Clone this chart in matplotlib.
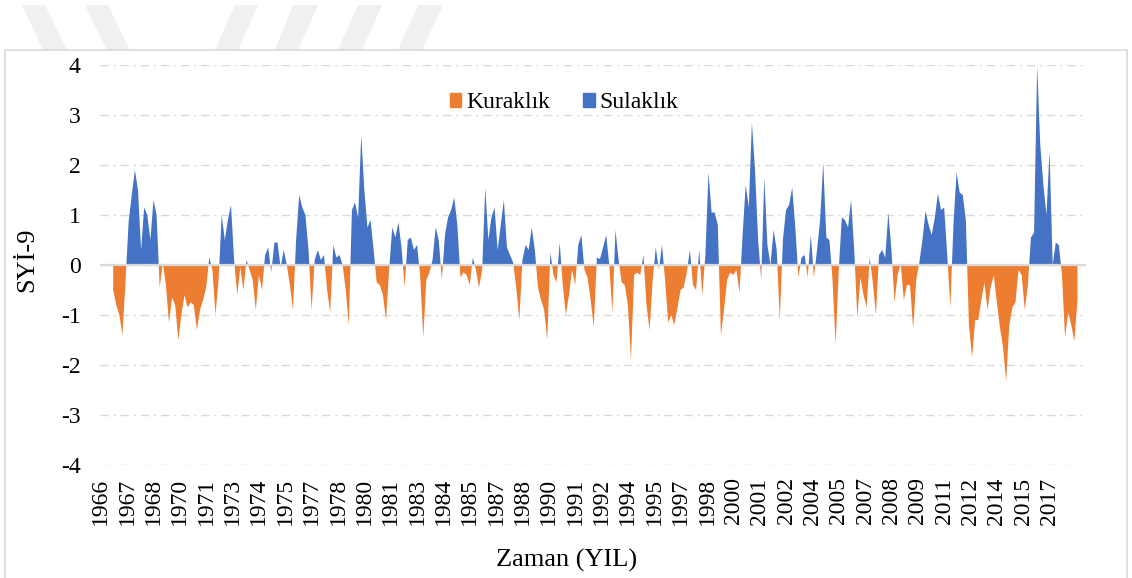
import numpy as np
import matplotlib.pyplot as plt
from matplotlib.patches import Patch, Rectangle, Polygon
from matplotlib.transforms import ScaledTranslation

plt.rcParams['font.family'] = ['Liberation Serif', 'DejaVu Serif']
plt.rcParams['axes.unicode_minus'] = False

# monthly axis: Jan 1966 .. Dec 2018, values read every 2nd month from Sep 1966
n_months = 636
first_month = 8
month_step = 2

syi9 = [
    -0.5, -0.8, -1.0, -1.4, -0.3, 0.88, 1.4, 1.9, 1.5, 0.3, 1.15, 1.0,
    0.5, 1.3, 1.0, -0.45, 0.05, -0.4, -1.15, -0.65, -0.8, -1.5, -1.0, -0.6,
    -0.85, -0.75, -0.8, -1.3, -0.9, -0.7, -0.45, 0.15, -0.1, -1.0, -0.3, 1.0,
    0.5, 0.9, 1.2, 0.1, -0.6, -0.05, -0.5, 0.1, -0.1, -0.3, -0.9, -0.2,
    -0.5, 0.2, 0.35, -0.15, 0.45, 0.45, -0.05, 0.3, 0.0, -0.4, -0.9, 0.5,
    1.4, 1.15, 1.0, 0.3, -0.9, 0.1, 0.3, 0.1, 0.2, -0.5, -0.95, 0.4,
    0.15, 0.2, 0.0, -0.5, -1.2, 1.1, 1.25, 0.95, 2.6, 1.5, 0.75, 0.9,
    0.3, -0.35, -0.4, -0.6, -1.1, -0.1, 0.75, 0.55, 0.85, 0.35, -0.45, 0.5,
    0.55, 0.3, 0.4, -0.2, -1.45, -0.3, -0.15, 0.1, 0.75, 0.5, -0.3, 0.6,
    0.95, 1.1, 1.35, 0.8, -0.25, -0.15, -0.2, -0.4, 0.15, -0.1, -0.45, -0.1,
    1.55, 0.5, 0.95, 1.15, 0.3, 0.8, 1.3, 0.35, 0.2, 0.05, -0.45, -1.1,
    0.1, 0.4, 0.3, 0.75, 0.3, -0.45, -0.7, -0.9, -1.5, 0.25, -0.2, -0.35,
    0.45, -0.4, -1.0, -0.6, -0.1, -0.4, 0.4, 0.6, -0.1, -0.25, -0.7, -1.25,
    0.15, 0.12, 0.35, 0.6, 0.0, -0.95, 0.7, 0.1, -0.35, -0.4, -0.8, -1.9,
    -0.2, -0.15, -0.2, 0.2, -0.8, -1.3, -0.3, 0.35, -0.1, 0.4, -0.3, -1.15,
    -1.0, -1.2, -0.85, -0.5, -0.45, -0.15, 0.3, -0.4, -0.5, 0.3, -0.6, 0.2,
    1.85, 1.05, 1.05, 0.8, -1.4, -0.9, -0.3, -0.15, -0.2, -0.1, -0.55, 0.6,
    1.6, 1.15, 2.85, 1.9, 0.5, -0.3, 1.75, 0.4, 0.0, 0.7, 0.3, -1.1,
    0.5, 1.1, 1.2, 1.55, 0.75, -0.25, 0.15, 0.2, -0.25, 0.6, -0.25, 0.3,
    0.9, 2.05, 0.55, 0.5, -0.3, -1.6, -0.1, 0.95, 0.9, 0.75, 1.3, 0.3,
    -1.05, -0.25, -0.6, -0.85, 0.15, -0.35, -1.0, 0.2, 0.3, 0.15, 1.05, 0.3,
    -0.75, -0.2, 0.03, -0.7, -0.4, -0.4, -1.28, -0.3, 0.05, 0.5, 1.08, 0.8,
    0.6, 0.95, 1.43, 1.1, 1.15, 0.2, -0.85, 0.8, 1.85, 1.45, 1.4, 0.9,
    -1.2, -1.85, -1.1, -1.1, -0.7, -0.35, -0.9, -0.45, -0.2, -0.75, -1.25, -1.65,
    -2.32, -1.2, -0.85, -0.75, -0.1, -0.2, -0.9, -0.4, 0.55, 0.65, 3.98, 2.4,
    1.6, 1.0, 2.28, 0.0, 0.45, 0.4, -0.2, -1.45, -0.95, -1.2, -1.52, -0.7,
]

tick_years = [1966, 1967, 1968, 1970, 1971, 1973, 1974, 1975, 1977, 1978,
              1980, 1981, 1983, 1984, 1985, 1987, 1988, 1990, 1991, 1992,
              1994, 1995, 1997, 1998, 2000, 2001, 2002, 2004, 2005, 2007,
              2008, 2009, 2011, 2012, 2014, 2015, 2017]
tick_every = 17  # months between labels

orange = '#ED7D31'
blue = '#4472C4'
grid_col = '#D9D9D9'

months = first_month + month_step * np.arange(len(syi9))
vals = np.array(syi9)

W, H = 1132, 578
fig = plt.figure(figsize=(W / 100, H / 100), dpi=100)

# faint watermark strips above the chart frame
strips = [
    [(22, 5), (45, 5), (67, 50), (43, 50)],
    [(85, 5), (108, 5), (130, 50), (107, 50)],
    [(235, 5), (258, 5), (238, 50), (215, 50)],
    [(293, 5), (318, 5), (298, 50), (275, 50)],
    [(358, 5), (382, 5), (362, 50), (338, 50)],
    [(418, 5), (443, 5), (422, 50), (398, 50)],
]
for s in strips:
    pts = [(x / W, 1 - y / H) for x, y in s]
    fig.patches.append(Polygon(pts, closed=True, transform=fig.transFigure,
                               facecolor='#F0F0F0', edgecolor='none'))

# chart frame
fig.patches.append(Rectangle((5 / W, -0.01), 1122 / W, 1 - 50 / H + 0.01,
                             transform=fig.transFigure, fill=False,
                             edgecolor=grid_col, lw=1.2))

ax = fig.add_axes([100 / W, 1 - 465 / H, 986 / W, 400 / H])

ax.fill_between(months, vals, 0, where=vals < 0, interpolate=True,
                color=orange, lw=0, zorder=2)
ax.fill_between(months, vals, 0, where=vals > 0, interpolate=True,
                color=blue, lw=0, zorder=2)
ax.axhline(0, color=grid_col, lw=1.6, zorder=3)

ax.set_xlim(-0.5, n_months - 0.5)
ax.set_ylim(-4, 4)
ax.set_yticks(range(-4, 5))
ax.yaxis.grid(True, color=grid_col, lw=1.0, linestyle=(0, (6, 3.5, 1.5, 3.5)))
ax.set_axisbelow(True)

ax.set_xticks([tick_every * k for k in range(len(tick_years))])
ax.set_xticklabels([str(y) for y in tick_years], rotation=90)
# Excel puts the rotated labels a few pixels right of the category centre
shift = ScaledTranslation(0.045, 0, fig.dpi_scale_trans)
for lab in ax.get_xticklabels():
    lab.set_transform(lab.get_transform() + shift)

for sp in ax.spines.values():
    sp.set_visible(False)
ax.tick_params(axis='y', length=0, labelsize=17, pad=14)
ax.tick_params(axis='x', length=0, labelsize=17, pad=9)

fig.text(27 / W, 1 - 260 / H, 'SYİ-9', rotation=90, ha='center', va='center', fontsize=19)
fig.text(567 / W, 1 - 560 / H, 'Zaman (YIL)', ha='center', va='center', fontsize=19)

handles = [Patch(color=orange, label='Kuraklık'), Patch(color=blue, label='Sulaklık')]
fig.legend(handles=handles, loc='center', bbox_to_anchor=(564 / W, 1 - 103 / H),
           ncol=2, frameon=False, fontsize=17, handlelength=0.5, handleheight=0.5,
           handletextpad=0.2, columnspacing=1.4)

fig.savefig('out.png', dpi=100)
